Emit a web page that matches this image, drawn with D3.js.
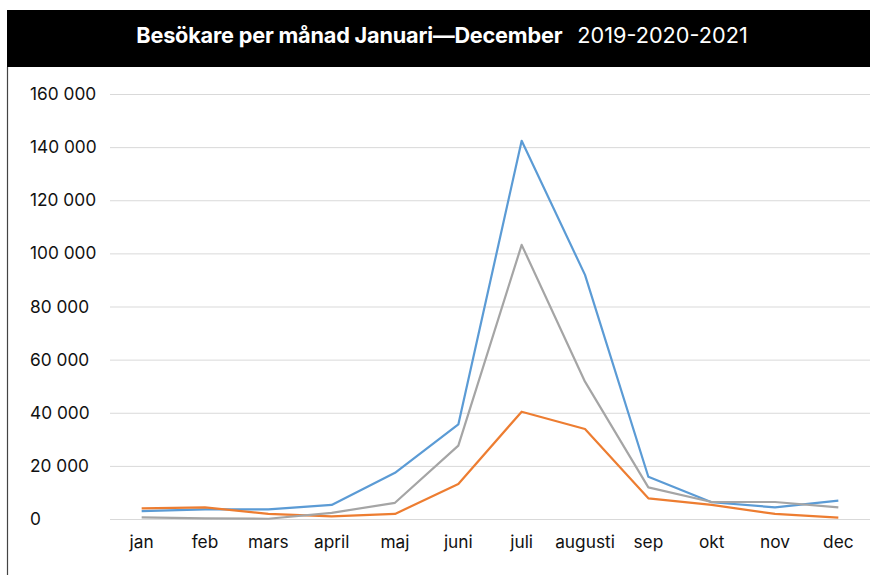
<!DOCTYPE html>
<html>
<head>
<meta charset="utf-8">
<script src="https://cdn.jsdelivr.net/npm/d3@7"></script>
<style>
  html, body { margin: 0; padding: 0; background: #fff; }
  svg { display: block; }
  text { font-family: Inter, "Noto Sans", sans-serif; }
</style>
</head>
<body>
<svg id="chart" width="870" height="575"></svg>
<script>
const months = ["jan","feb","mars","april","maj","juni","juli","augusti","sep","okt","nov","dec"];
const series2019 = [3000, 3600, 3600, 5300, 17400, 35600, 142400, 91900, 15900, 6300, 4400, 6900];
const series2020 = [4000, 4400, 1900, 1000, 1900, 13200, 40400, 33900, 7800, 5300, 1900, 500];
const series2021 = [600, 200, 100, 2300, 6100, 27600, 103200, 51700, 11900, 6400, 6400, 4400];
const yTicks = [0, 20000, 40000, 60000, 80000, 100000, 120000, 140000, 160000];
const seriesNames = ["2019", "2020", "2021"];
const seriesColors = ["#5B9BD5", "#ED7D31", "#A5A5A5"];
const titleBold = "Besökare per månad Januari—December";
const titleRegular = "2019-2020-2021";

const svg = d3.select("#chart");

// header band
svg.append("rect").attr("x", 7).attr("y", 10).attr("width", 863).attr("height", 57).attr("fill", "#000");
// left frame line
svg.append("line").attr("x1", 7.5).attr("x2", 7.5).attr("y1", 67).attr("y2", 575)
  .attr("stroke", "#444").attr("stroke-width", 1.2);

const title = svg.append("text").attr("x", 442).attr("y", 43).attr("text-anchor", "middle")
  .attr("fill", "#fff").attr("font-size", 21.7);
title.append("tspan").attr("font-weight", 700).attr("letter-spacing", -0.2).text(titleBold);
title.append("tspan").attr("font-weight", 400).attr("dx", 15).text(titleRegular);

const x = d3.scaleBand().domain(months).range([110, 870]);
const y = d3.scaleLinear().domain([0, 160000]).range([519, 94]);

// grid
svg.append("g").selectAll("line").data(yTicks).join("line")
  .attr("x1", 110).attr("x2", 870)
  .attr("y1", d => y(d) + 0.5).attr("y2", d => y(d) + 0.5)
  .attr("stroke", "#d9d9d9").attr("stroke-width", 1);

// y axis (labels left-aligned)
const yAxis = svg.append("g").attr("transform", "translate(30,0)")
  .call(d3.axisLeft(y).tickValues(yTicks).tickSize(0).tickPadding(0)
    .tickFormat(d => d3.format(",")(d).replace(/,/g, " ")));
yAxis.select(".domain").remove();
yAxis.selectAll("text").attr("text-anchor", "start").attr("x", 0)
  .attr("font-size", 17.3).attr("fill", "#111").attr("font-family", "Inter, sans-serif");

// x axis
const xAxis = svg.append("g").attr("transform", "translate(0,519)")
  .call(d3.axisBottom(x).tickSize(0).tickPadding(17));
xAxis.select(".domain").remove();
xAxis.selectAll("text").attr("font-size", 17.3).attr("fill", "#111").attr("font-family", "Inter, sans-serif");

const line = d3.line().x((d, i) => x(months[i]) + x.bandwidth() / 2).y(d => y(d));
const all = [series2019, series2020, series2021];
svg.append("g").selectAll("path").data(all).join("path")
  .attr("d", d => line(d))
  .attr("fill", "none")
  .attr("stroke", (d, i) => seriesColors[i])
  .attr("stroke-width", 2.2)
  .attr("stroke-linejoin", "round");
</script>
</body>
</html>
